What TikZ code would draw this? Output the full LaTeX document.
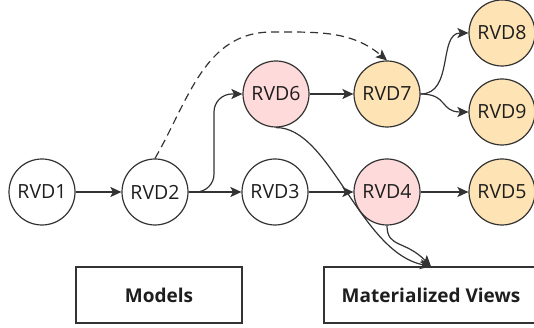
\documentclass[tikz,border=0pt]{standalone}
\usepackage{fontspec}
\setmainfont{Open Sans}
\usetikzlibrary{arrows.meta}
\definecolor{edge}{HTML}{333333}
\definecolor{pinkfill}{HTML}{FFDADA}
\definecolor{orangefill}{HTML}{FEE3B4}
\definecolor{ink}{HTML}{1E1E1E}
\tikzset{
  rvd/.style={circle, draw=edge, line width=1.2pt, minimum size=66pt, inner sep=0pt,
              font=\fontsize{19.5}{22}\selectfont, text=ink},
  plain/.style={rvd, fill=white},
  changed/.style={rvd, fill=pinkfill},
  affected/.style={rvd, fill=orangefill},
  layer/.style={draw=edge, line width=1.2pt, minimum height=56pt, inner sep=0pt,
                font=\bfseries\fontsize{19}{22}\selectfont, text=ink},
  link/.style={draw=edge, line width=1.2pt,
               -{Stealth[length=11pt,width=10pt,inset=2.5pt]}},
}
\begin{document}
\begin{tikzpicture}[x=1pt,y=1pt]
\clip (0,0) rectangle (534,328);
\fill[white] (0,0) rectangle (534,328);

% dependency graph of the RVD nodes
\node[plain]    (rvd1) at (42,136)  {RVD1};
\node[plain]    (rvd2) at (155,136) {RVD2};
\node[plain]    (rvd3) at (275,136) {RVD3};
\node[changed]  (rvd4) at (387,136) {RVD4};
\node[affected] (rvd5) at (502,136) {RVD5};
\node[changed]  (rvd6) at (276,234) {RVD6};
\node[affected] (rvd7) at (387,234) {RVD7};
\node[affected] (rvd8) at (502,295) {RVD8};
\node[affected] (rvd9) at (502,216) {RVD9};

% the two layers at the bottom
\node[layer, minimum width=166pt] (models) at (159,33) {Models};
\node[layer, minimum width=214pt] (views)  at (431,33) {Materialized Views};

% straight dependencies
\draw[link] (rvd1) -- (rvd2);
\draw[link] (rvd2) -- (rvd3);
\draw[link] (rvd3) -- (rvd4);
\draw[link] (rvd4) -- (rvd5);
\draw[link] (rvd6) -- (rvd7);

% curved dependencies
\draw[link, rounded corners=18pt] (rvd2.east) -- (214,136) -- (214,234) -- (rvd6.west);
\draw[link] (rvd7.east) .. controls (454,234) and (438,295) .. (rvd8.west);
\draw[link] (rvd7.east) .. controls (448,234) and (440,216) .. (rvd9.west);
\draw[link, dash pattern=on 8pt off 5pt]
  (rvd2.north) to[out=60,in=180] (272,296) to[out=0,in=140] (rvd7.north);

% materialization into views
\draw[link] (rvd6.south) .. controls (330,201) and (360,76) .. (views.north);
\draw[link] (rvd4.south) .. controls (387,80) and (405,88) .. (views.north);
\end{tikzpicture}
\end{document}
